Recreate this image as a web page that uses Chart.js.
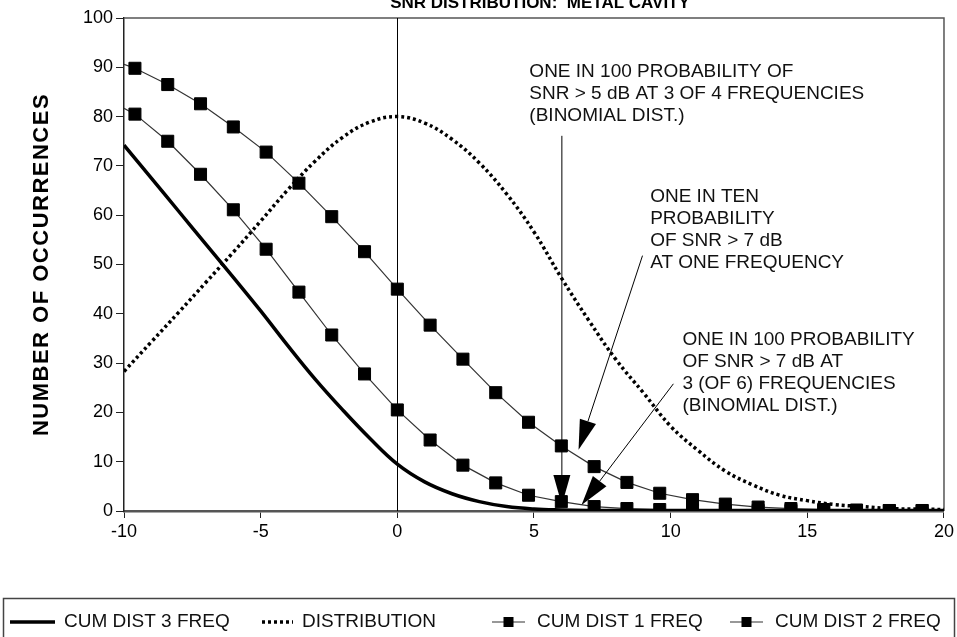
<!DOCTYPE html>
<html>
<head>
<meta charset="utf-8">
<script src="https://cdn.jsdelivr.net/npm/chart.js@4.4.1/dist/chart.umd.min.js"></script>
<style>
  html, body { margin: 0; padding: 0; background: #fff; }
  #wrap { width: 957px; height: 637px; }
</style>
</head>
<body>
<div id="wrap"><canvas id="snr-chart" width="957" height="637"></canvas></div>
<script>
// SNR (dB) positions of the square markers (ends carry the line only)
const markerX = [-10, -9.6, -8.4, -7.2, -6.0, -4.8, -3.6, -2.4, -1.2, 0, 1.2, 2.4, 3.6, 4.8,
    6.0, 7.2, 8.4, 9.6, 10.8, 12.0, 13.2, 14.4, 15.6, 16.8, 18.0, 19.2, 20];
const cumDist1 = [90.6, 89.8, 86.5, 82.6, 77.9, 72.8, 66.5, 59.7, 52.6, 45.0, 37.7, 30.8, 24.0, 18.0,
    13.2, 9.0, 5.8, 3.6, 2.3, 1.4, 0.8, 0.5, 0.3, 0.2, 0.1, 0.1, 0.1];
const cumDist2 = [81.7, 80.5, 75.0, 68.3, 61.1, 53.1, 44.4, 35.7, 27.8, 20.5, 14.4, 9.3, 5.7, 3.2,
    1.9, 0.9, 0.5, 0.3, 0.2, 0.1, 0.1, 0.1, 0.1, 0.1, 0.1, 0.1, 0.1];

// smooth curves, one value per dB
const snrX = [-10, -9, -8, -7, -6, -5, -4, -3, -2, -1, 0, 1, 2, 3, 4, 5, 6, 7, 8, 9, 10,
    11, 12, 13, 14, 15, 16, 17, 18, 19, 20];
const cumDist3 = [74.2, 67.5, 60.8, 54.1, 47.4, 40.6, 33.5, 26.7, 20.5, 14.7, 9.5, 5.9, 3.5, 1.9, 0.9, 0.4,
    0.2, 0.1, 0.1, 0.1, 0.1, 0.1, 0.1, 0.1, 0.1, 0.1, 0.1, 0.1, 0.1, 0.1, 0.1];
const distribution = [28.3, 34.3, 40.3, 46.4, 52.5, 58.8, 65.2, 71.0, 75.8, 78.9, 80.0, 78.7, 75.4, 70.6,
    64.3, 56.6, 47.3, 38.7, 30.7, 24.0, 17.2, 12.3, 8.1, 5.3, 3.2, 2.1, 1.3, 0.9, 0.5, 0.4, 0.3];

const seriesLabels = ['CUM DIST 3 FREQ', 'DISTRIBUTION', 'CUM DIST 1 FREQ', 'CUM DIST 2 FREQ'];
const chartTitle = 'SNR DISTRIBUTION:  METAL CAVITY';
const yTitle = 'NUMBER OF OCCURRENCES';

const notes = [
    { x: 4.83, y: 89.1, lines: ['ONE IN 100 PROBABILITY OF', 'SNR > 5 dB AT 3 OF 4 FREQUENCIES', '(BINOMIAL DIST.)'] },
    { x: 9.25, y: 63.7, lines: ['ONE IN TEN', 'PROBABILITY', 'OF SNR > 7 dB', 'AT ONE FREQUENCY'] },
    { x: 10.43, y: 34.7, lines: ['ONE IN 100 PROBABILITY', 'OF SNR > 7 dB AT', '3 (OF 6) FREQUENCIES', '(BINOMIAL DIST.)'] }
];
const arrows = [
    { from: [6.02, 76.1], to: [6.02, 1.2] },
    { from: [8.97, 51.8], to: [6.63, 12.4] },
    { from: [10.1, 25.8], to: [6.74, 1.2] }
];

const FONT = '"Liberation Sans", Arial, sans-serif';

function toPoints(xs, ys) {
    return xs.map((x, i) => ({ x: x, y: ys[i] }));
}

function markerRadius(ctx) {
    const x = ctx.raw ? ctx.raw.x : 0;
    return (x <= -10 || x >= 20) ? 0 : 8.5;
}

function drawArrow(ctx, x1, y1, x2, y2, len, half) {
    const a = Math.atan2(y2 - y1, x2 - x1);
    const bx = x2 - len * Math.cos(a), by = y2 - len * Math.sin(a);
    ctx.beginPath();
    ctx.moveTo(x1, y1);
    ctx.lineTo(bx, by);
    ctx.stroke();
    ctx.beginPath();
    ctx.moveTo(x2, y2);
    ctx.lineTo(bx + half * Math.sin(a), by - half * Math.cos(a));
    ctx.lineTo(bx - half * Math.sin(a), by + half * Math.cos(a));
    ctx.closePath();
    ctx.fill();
}

const snrDecor = {
    id: 'snrDecor',
    beforeDatasetsDraw(chart) {
        const { ctx, chartArea: a, scales: { x, y } } = chart;
        ctx.save();
        // frame top / right
        ctx.strokeStyle = '#555';
        ctx.lineWidth = 1.5;
        ctx.beginPath();
        ctx.moveTo(a.left, a.top);
        ctx.lineTo(a.right, a.top);
        ctx.lineTo(a.right, a.bottom);
        ctx.stroke();
        // reference line at 0 dB
        ctx.strokeStyle = '#000';
        ctx.lineWidth = 1;
        ctx.beginPath();
        ctx.moveTo(Math.round(x.getPixelForValue(0)) + 0.5, y.getPixelForValue(100));
        ctx.lineTo(Math.round(x.getPixelForValue(0)) + 0.5, y.getPixelForValue(0));
        ctx.stroke();
        ctx.restore();
    },
    afterDatasetsDraw(chart) {
        const { ctx, scales: { x, y } } = chart;
        ctx.save();
        ctx.strokeStyle = '#000';
        ctx.fillStyle = '#000';
        ctx.lineWidth = 1;
        arrows.forEach(ar => {
            drawArrow(ctx, x.getPixelForValue(ar.from[0]), y.getPixelForValue(ar.from[1]),
                x.getPixelForValue(ar.to[0]), y.getPixelForValue(ar.to[1]), 30, 8.5);
        });
        ctx.fillStyle = '#111';
        ctx.font = '19px ' + FONT;
        ctx.textBaseline = 'middle';
        ctx.textAlign = 'left';
        notes.forEach(n => {
            const px = x.getPixelForValue(n.x), py = y.getPixelForValue(n.y);
            n.lines.forEach((t, i) => ctx.fillText(t, px, py + i * 22));
        });
        ctx.restore();
    },
    afterDraw(chart) {
        const { ctx, chartArea: a } = chart;
        ctx.save();
        // title, cropped at the top like the source
        ctx.fillStyle = '#000';
        ctx.font = 'bold 17px ' + FONT;
        ctx.textAlign = 'center';
        ctx.textBaseline = 'alphabetic';
        ctx.fillText(chartTitle, (a.left + a.right) / 2 + 6, 8);

        // y axis title
        ctx.save();
        ctx.translate(42, (a.top + a.bottom) / 2);
        ctx.rotate(-Math.PI / 2);
        ctx.font = 'bold 22px ' + FONT;
        ctx.letterSpacing = '1.5px';
        ctx.textBaseline = 'middle';
        ctx.fillText(yTitle, 0, 0);
        ctx.restore();

        // legend box
        ctx.strokeStyle = '#444';
        ctx.lineWidth = 1.5;
        ctx.strokeRect(3.5, 598.5, 951, 60);
        const sx = [10, 262, 492, 730], sw = [45, 31, 33, 33], tx = [64, 302, 537, 775];
        const ly = 622;
        ctx.font = '19px ' + FONT;
        ctx.textAlign = 'left';
        ctx.textBaseline = 'middle';
        chart.data.datasets.forEach((ds, i) => {
            ctx.strokeStyle = ds.borderColor;
            ctx.lineWidth = ds.borderWidth;
            ctx.setLineDash(ds.borderDash || []);
            ctx.beginPath();
            ctx.moveTo(sx[i], ly);
            ctx.lineTo(sx[i] + sw[i], ly);
            ctx.stroke();
            ctx.setLineDash([]);
            if (ds.pointStyle === 'rect') {
                ctx.fillStyle = '#000';
                ctx.fillRect(sx[i] + sw[i] / 2 - 5, ly - 5, 10, 10);
            }
            ctx.fillStyle = '#111';
            ctx.fillText(ds.label, tx[i], ly);
        });
        ctx.restore();
    }
};

new Chart(document.getElementById('snr-chart'), {
    type: 'line',
    data: {
        datasets: [{
            label: seriesLabels[0],
            data: toPoints(snrX, cumDist3),
            borderColor: '#000',
            borderWidth: 3.5,
            pointRadius: 0,
            tension: 0.4
        }, {
            label: seriesLabels[1],
            data: toPoints(snrX, distribution),
            borderColor: '#000',
            borderWidth: 3.5,
            borderDash: [3, 3],
            pointRadius: 0,
            tension: 0.4
        }, {
            label: seriesLabels[2],
            data: toPoints(markerX, cumDist1),
            borderColor: '#333',
            borderWidth: 1.2,
            pointStyle: 'rect',
            pointRadius: markerRadius,
            pointBackgroundColor: '#000',
            pointBorderColor: '#000',
            pointBorderWidth: 1
        }, {
            label: seriesLabels[3],
            data: toPoints(markerX, cumDist2),
            borderColor: '#333',
            borderWidth: 1.2,
            pointStyle: 'rect',
            pointRadius: markerRadius,
            pointBackgroundColor: '#000',
            pointBorderColor: '#000',
            pointBorderWidth: 1
        }]
    },
    options: {
        responsive: false,
        animation: false,
        events: [],
        layout: { padding: { top: 18, right: 10, bottom: 100, left: 0 } },
        plugins: {
            legend: { display: false },
            tooltip: { enabled: false }
        },
        scales: {
            x: {
                type: 'linear',
                min: -10,
                max: 20,
                ticks: { stepSize: 5, color: '#000', padding: 3, maxRotation: 0,
                    font: { family: FONT, size: 18 } },
                grid: { drawOnChartArea: false, drawTicks: true, tickLength: 7, color: '#222' },
                border: { display: true, color: '#555', width: 2.5 },
                afterFit: s => { s.height = 26; }
            },
            y: {
                min: 0,
                max: 100,
                ticks: { stepSize: 10, color: '#000', padding: 3,
                    font: { family: FONT, size: 18 } },
                grid: { drawOnChartArea: false, drawTicks: true, tickLength: 8, color: '#222' },
                border: { display: true, color: '#222', width: 1.5 },
                afterFit: s => { s.width = 124; }
            }
        }
    },
    plugins: [snrDecor]
});
</script>
</body>
</html>
